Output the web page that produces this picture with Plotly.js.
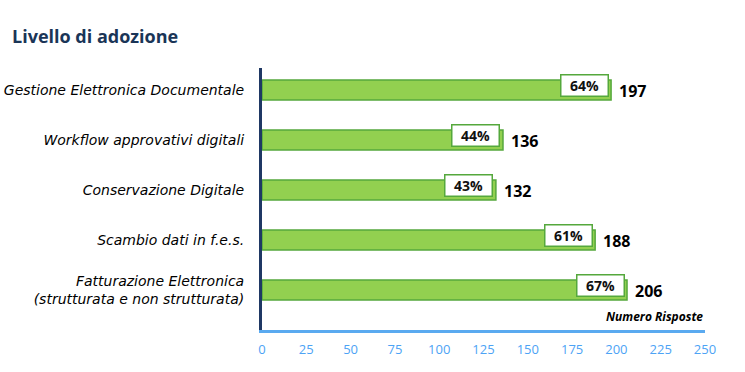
<!DOCTYPE html>
<html>
<head>
<meta charset="utf-8">
<script src="https://cdn.plot.ly/plotly-3.0.1.min.js"></script>
<style>html,body{margin:0;padding:0;background:#fff;}#chart{width:745px;height:372px;}</style>
</head>
<body>
<div id="chart"></div>
<script>
const categories = ["Gestione Elettronica Documentale", "Workflow approvativi digitali", "Conservazione Digitale", "Scambio dati in f.e.s.", "Fatturazione Elettronica<br>(strutturata e non strutturata)"];
const responses = [197, 136, 132, 188, 206];
const percentLabels = ["64%", "44%", "43%", "61%", "67%"];
const xTickValues = [0, 25, 50, 75, 100, 125, 150, 175, 200, 225, 250];

const green = "#92D050";
const greenDark = "#55A83C";
const yIdx = categories.map((c, i) => i);

const trace = {
  type: "bar",
  orientation: "h",
  x: responses,
  y: yIdx,
  width: 0.4,
  marker: {color: green, line: {color: greenDark, width: 1.5}},
  hoverinfo: "none"
};

const annotations = [];
responses.forEach((v, i) => {
  annotations.push({
    x: v, y: i, xref: "x", yref: "y",
    text: "<b>" + percentLabels[i] + "</b>",
    showarrow: false, xanchor: "center", yanchor: "middle",
    xshift: -27, yshift: 5,
    font: {family: "Open Sans, sans-serif", size: 14, color: "#111"},
    bgcolor: "#ffffff", bordercolor: greenDark, borderwidth: 1.5, borderpad: 1,
    width: 44, height: 18
  });
  annotations.push({
    x: v, y: i, xref: "x", yref: "y",
    text: "<b>" + v + "</b>",
    showarrow: false, xanchor: "left", yanchor: "middle",
    xshift: 6, yshift: -1,
    font: {family: "Open Sans, sans-serif", size: 16, color: "#000"}
  });
});
annotations.push({
  x: 1, y: 0.05, xref: "paper", yref: "paper",
  text: "<b><i>Numero Risposte</i></b>",
  showarrow: false, xanchor: "right", yanchor: "middle",
  font: {family: "Open Sans, sans-serif", size: 12, color: "#000"}
});

const layout = {
  width: 745, height: 372,
  margin: {l: 262, r: 40, t: 68, b: 42},
  paper_bgcolor: "#fff", plot_bgcolor: "#fff",
  showlegend: false,
  title: {
    text: "<b>Livello di adozione</b>",
    x: 12/745, xref: "container", xanchor: "left",
    y: 1 - 37/372, yref: "container", yanchor: "middle",
    font: {family: "Open Sans, sans-serif", size: 18, color: "#1A3557"}
  },
  xaxis: {
    range: [0, 250],
    tickvals: xTickValues,
    ticktext: xTickValues.map(String),
    showgrid: false, zeroline: false,
    showline: true, linecolor: "#5AAAF0", linewidth: 3,
    ticks: "outside", ticklen: 5, tickcolor: "rgba(0,0,0,0)",
    tickfont: {family: "Open Sans, sans-serif", size: 13, color: "#4DA3F5"},
    fixedrange: true
  },
  yaxis: {
    range: [4.8, -0.44],
    tickvals: yIdx,
    ticktext: categories,
    showgrid: false, zeroline: false,
    showline: true, linecolor: "#1F3864", linewidth: 3,
    ticks: "outside", ticklen: 12, tickcolor: "rgba(0,0,0,0)",
    tickfont: {family: "DejaVu Sans, sans-serif", size: 14, color: "#000", style: "italic"},
    fixedrange: true
  },
  shapes: [{
    type: "line", xref: "x", yref: "paper",
    x0: -4, x1: 0, y0: 0, y1: 0,
    line: {color: "#5AAAF0", width: 3}
  }],
  annotations: annotations
};

Plotly.newPlot("chart", [trace], layout, {displayModeBar: false, staticPlot: true});
</script>
</body>
</html>
